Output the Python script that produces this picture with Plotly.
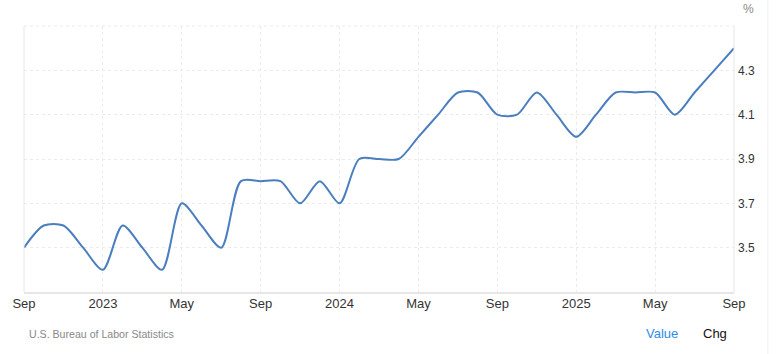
import plotly.graph_objects as go

months = ["Sep 2022","Oct 2022","Nov 2022","Dec 2022",
          "Jan 2023","Feb 2023","Mar 2023","Apr 2023","May 2023","Jun 2023","Jul 2023","Aug 2023",
          "Sep 2023","Oct 2023","Nov 2023","Dec 2023",
          "Jan 2024","Feb 2024","Mar 2024","Apr 2024","May 2024","Jun 2024","Jul 2024","Aug 2024",
          "Sep 2024","Oct 2024","Nov 2024","Dec 2024",
          "Jan 2025","Feb 2025","Mar 2025","Apr 2025","May 2025","Jun 2025","Jul 2025","Aug 2025",
          "Sep 2025"]
unemployment = [3.5, 3.6, 3.6, 3.5,
                3.4, 3.6, 3.5, 3.4, 3.7, 3.6, 3.5, 3.8,
                3.8, 3.8, 3.7, 3.8,
                3.7, 3.9, 3.9, 3.9, 4.0, 4.1, 4.2, 4.2,
                4.1, 4.1, 4.2, 4.1,
                4.0, 4.1, 4.2, 4.2, 4.2, 4.1, 4.2, 4.3,
                4.4]
x_tick_labels = ["Sep", "2023", "May", "Sep", "2024", "May", "Sep", "2025", "May", "Sep"]
y_ticks = [3.5, 3.7, 3.9, 4.1, 4.3]

idx = list(range(len(months)))
x_tick_vals = idx[::4]

fig = go.Figure()
fig.add_trace(go.Scatter(
    x=idx, y=unemployment, mode="lines",
    line=dict(color="#4a7ebf", width=2, shape="spline", smoothing=0.8),
    text=months, hovertemplate="%{text}: %{y}%<extra></extra>",
))

grid_col = "#ebebeb"
fig.update_layout(
    width=778, height=354,
    margin=dict(l=21, r=44, t=26, b=62),
    paper_bgcolor="white", plot_bgcolor="white",
    showlegend=False,
    font=dict(family="Liberation Sans, Arial, sans-serif", color="#333333"),
    xaxis=dict(
        range=[0, 36], tickvals=x_tick_vals, ticktext=x_tick_labels,
        showgrid=True, gridcolor=grid_col, griddash="dot", gridwidth=1,
        zeroline=False, showline=True, linecolor="#e6e6e6", linewidth=2,
        ticks="", tickfont=dict(size=13, color="#333333"), ticklabelstandoff=-2,
    ),
    yaxis=dict(
        range=[3.3, 4.5], side="right", tickvals=y_ticks,
        ticktext=[f"{v:.1f}" for v in y_ticks],
        showgrid=True, gridcolor=grid_col, griddash="dot", gridwidth=1,
        zeroline=False, showline=False, ticks="", ticklabelstandoff=3,
        tickfont=dict(size=12, color="#333333"),
    ),
    shapes=[
        dict(type="line", xref="paper", yref="paper", x0=0, x1=0, y0=0, y1=1,
             line=dict(color="#e6e6e6", width=1)),
        dict(type="line", xref="paper", yref="paper", x0=1, x1=1, y0=0, y1=1,
             line=dict(color="#e6e6e6", width=1)),
        dict(type="line", xref="paper", yref="paper", x0=0, x1=1, y0=1, y1=1,
             line=dict(color=grid_col, width=1, dash="dot")),
        dict(type="line", xref="paper", yref="paper", x0=1.0477, x1=1.0477, y0=-0.2331, y1=1.0977,
             line=dict(color="#eeeeee", width=1)),
    ],
    annotations=[
        dict(text="%", xref="paper", yref="paper", x=1.0, y=1.0, xshift=14, yshift=17,
             showarrow=False, xanchor="center", yanchor="middle",
             font=dict(size=12, color="#888888")),
        dict(text="U.S. Bureau of Labor Statistics", xref="paper", yref="paper",
             x=0, y=0, xshift=3, yshift=-42, showarrow=False, xanchor="left", yanchor="middle",
             font=dict(size=10.6, color="#888888")),
        dict(text="Value", xref="paper", yref="paper", x=1, y=0, xshift=-72, yshift=-41,
             showarrow=False, xanchor="center", yanchor="middle",
             font=dict(size=13, color="#2d8ceb")),
        dict(text="Chg", xref="paper", yref="paper", x=1, y=0, xshift=-19, yshift=-41,
             showarrow=False, xanchor="center", yanchor="middle",
             font=dict(size=13, color="#111111")),
    ],
)

fig.write_html("out.html")
